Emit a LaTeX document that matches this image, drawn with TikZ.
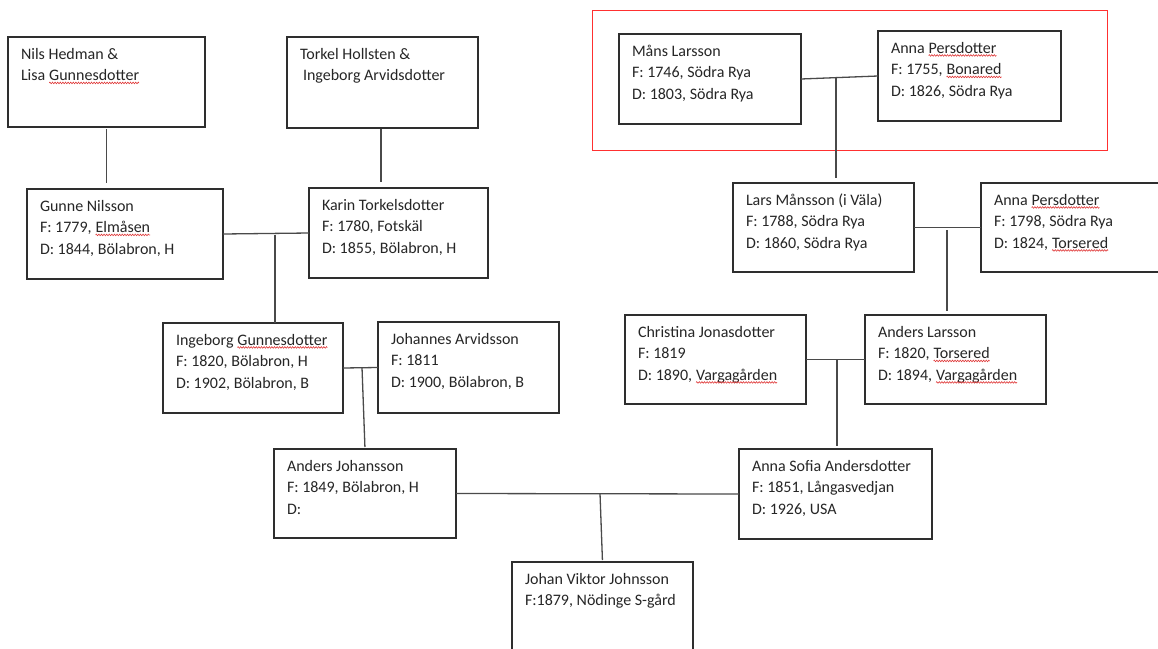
\documentclass[tikz,border=0pt]{standalone}
\usepackage{fontspec}
\setmainfont{Carlito}
\usetikzlibrary{decorations.pathmorphing}
\definecolor{cardline}{HTML}{2E2E2E}
\definecolor{connline}{HTML}{4A4A4A}
\definecolor{framered}{HTML}{FF3030}
\definecolor{spellred}{HTML}{E03A3A}
\definecolor{ink}{HTML}{262626}
% red wavy underline for names flagged by the spell checker
\newcommand\spellmark[1]{\tikz[x=1pt, y=1pt, baseline=(sw.base)]{%
  \node[anchor=base west, inner sep=0pt, outer sep=0pt, text=ink] (sw) at (0,0) {#1};
  \draw[spellred, line width=0.6pt, decorate,
        decoration={zigzag, amplitude=0.8pt, segment length=2.6pt}]
    ([yshift=-2.4pt]sw.base west) -- ([yshift=-2.4pt]sw.base east);}}
\tikzset{
  card/.style={draw=cardline, line width=1.2pt, rectangle, anchor=north west, inner sep=0pt, outer sep=0pt},
  cardtext/.style={anchor=north west, inner sep=0pt, outer sep=0pt, align=left, text=ink,
    font=\fontsize{16pt}{21.5pt}\selectfont},
  connline/.style={draw=connline, line width=1.3pt},
  ancestorframe/.style={draw=framered, line width=1.3pt, rectangle, anchor=north west, inner sep=0pt}
}
% \famcard{name}{left}{top}{width}{height}{lines}
\newcommand\famcard[6]{%
  \node[card, minimum width=#4pt, minimum height=#5pt] (#1) at (#2,#3) {};
  \node[cardtext] (#1-text) at ([shift={(13,7)}]#1.north west) {\strut #6};
}
\begin{document}
\begin{tikzpicture}[x=1pt, y=-1pt]
\useasboundingbox[fill=white] (0,0) rectangle (1158,648);
\clip (0,0) rectangle (1158,648);

% frame around the oldest couple
\node[ancestorframe, minimum width=515pt, minimum height=140pt] (oldest) at (592,10) {};

% father's side
\famcard{nils}{8}{37}{197}{90}{Nils Hedman \&\\Lisa \spellmark{Gunnesdotter}}
\famcard{torkel}{287}{37}{191}{91}{Torkel Hollsten \&\\\hspace{3pt}Ingeborg Arvidsdotter}
\famcard{gunne}{27}{189}{196}{90}{Gunne Nilsson\\F: 1779, \spellmark{Elmåsen}\\D: 1844, Bölabron, H}
\famcard{karin}{309}{188}{179}{90}{Karin Torkelsdotter\\F: 1780, Fotskäl\\D: 1855, Bölabron, H}
\famcard{ing}{163}{323}{180}{90}{Ingeborg \spellmark{Gunnesdotter}\\F: 1820, Bölabron, H\\D: 1902, Bölabron, B}
\famcard{joh}{378}{322}{181}{91}{Johannes Arvidsson\\F: 1811\\D: 1900, Bölabron, B}
\famcard{aj}{274}{449}{182}{89}{Anders Johansson\\F: 1849, Bölabron, H\\D:}

% mother's side
\famcard{mans}{619}{34}{182}{90}{Måns Larsson\\F: 1746, Södra Rya\\D: 1803, Södra Rya}
\famcard{annaA}{878}{31}{183}{90}{Anna \spellmark{Persdotter}\\F: 1755, \spellmark{Bonared}\\D: 1826, Södra Rya}
\famcard{lars}{733}{183}{181}{89}{Lars Månsson (i Väla)\\F: 1788, Södra Rya\\D: 1860, Södra Rya}
\famcard{annaB}{981}{183}{181}{89}{Anna \spellmark{Persdotter}\\F: 1798, Södra Rya\\D: 1824, \spellmark{Torsered}}
\famcard{chr}{625}{315}{181}{89}{Christina Jonasdotter\\F: 1819\\D: 1890, \spellmark{Vargagården}}
\famcard{al}{865}{315}{181}{89}{Anders Larsson\\F: 1820, \spellmark{Torsered}\\D: 1894, \spellmark{Vargagården}}
\famcard{asofia}{739}{449}{193}{90}{Anna Sofia Andersdotter\\F: 1851, Långasvedjan\\D: 1926, USA}

% the child
\famcard{johan}{512}{562}{181}{110}{Johan Viktor Johnsson\\F:1879, Nödinge S-gård}

% couples and descent lines
\draw[connline, shorten <=2pt, shorten >=6pt] (nils.south) -- (nils.south |- gunne.north);
\draw[connline, shorten <=1pt, shorten >=6pt] ([xshift=-1.5pt]torkel.south) -- ([xshift=-1.5pt]torkel.south |- karin.north);

\draw[connline] (gunne.east) -- (karin.west);
\coordinate (gk) at (275,234.5);
\draw[connline] (gk) -- (gk |- ing.north);

\draw[connline] (ing.east) -- (joh.west);
\coordinate (ij) at (362,367.5);
\draw[connline, shorten >=2pt] (ij) -- (aj.north);

\draw[connline] (mans.east) -- (annaA.west);
\coordinate (ma) at (836,77.5);
\draw[connline, shorten >=5pt] (ma) -- (ma |- lars.north);

\draw[connline] (lars.east) -- (annaB.west);
\coordinate (la) at (947,230);
\draw[connline, shorten >=4pt] (la) -- (la |- al.north);

\draw[connline] (chr.east) -- (al.west);
\coordinate (ca) at (837,359.5);
\draw[connline, shorten >=3pt] (ca) -- (ca |- asofia.north);

\draw[connline] (aj.east) -- (asofia.west);
\coordinate (aa) at (600,493.5);
\draw[connline, shorten >=2pt] (aa) -- (johan.north);
\end{tikzpicture}
\end{document}
